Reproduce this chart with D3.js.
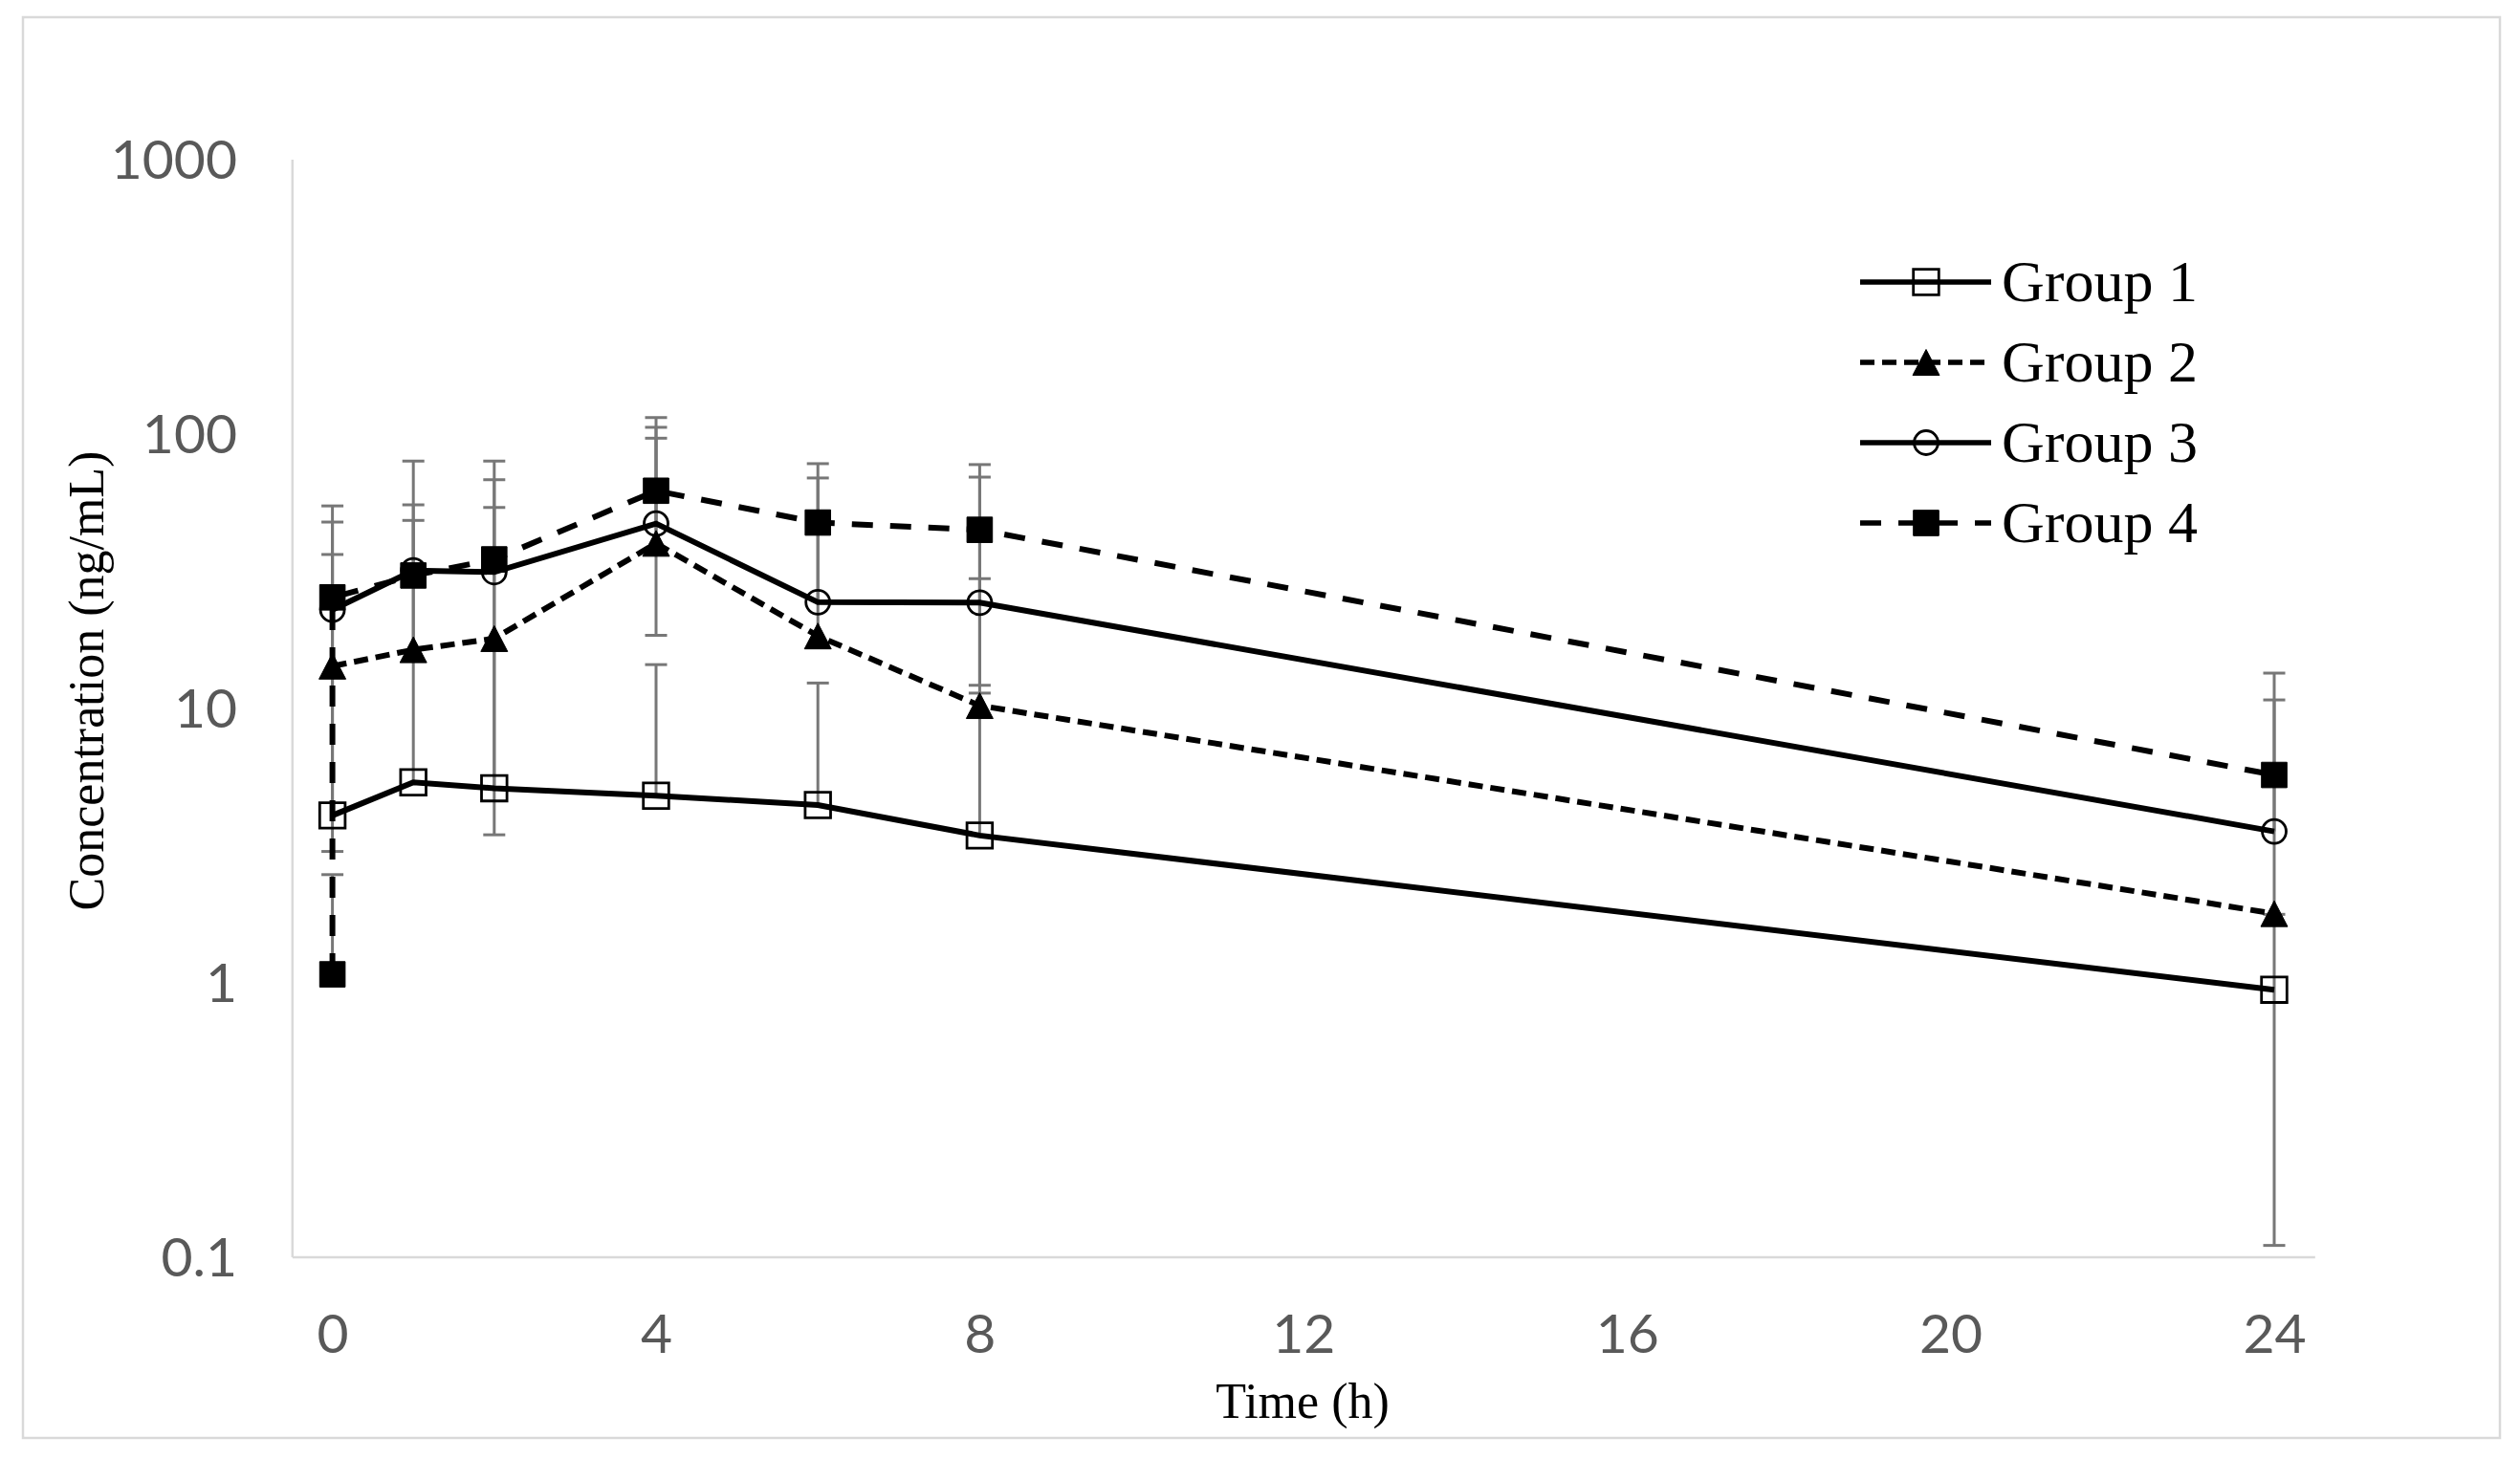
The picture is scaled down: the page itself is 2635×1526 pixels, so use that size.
<!DOCTYPE html>
<html>
<head>
<meta charset="utf-8">
<script src="https://cdn.jsdelivr.net/npm/d3@7"></script>
<style>
  html, body { margin: 0; padding: 0; background: #fff; }
  svg { display: block; }
</style>
</head>
<body>
<div id="chart"></div>
<script>
// sampling times (h)
const TIMES = [0, 1, 2, 4, 6, 8, 24];
// group 4 has an extra pre-dose point at t = 0
const TIMES_G4 = [0, 0, 1, 2, 4, 6, 8, 24];

// mean concentration (ng/mL) and SD
const G1_MEAN = [4.06, 5.36, 5.10, 4.79, 4.43, 3.43, 0.94];
const G1_SD   = [32.2, 42.9, 48.7, 9.6, 7.9, 7.9, 0.83];
const G2_MEAN = [14.2, 16.3, 17.9, 39.8, 18.3, 10.2, 1.78];
const G2_SD   = [11.2, 38.7, 14.45, 74.6, 50.6, 19.4, 3.9];
const G3_MEAN = [22.8, 31.7, 31.3, 47.0, 24.3, 24.2, 3.55];
const G3_SD   = [24.8, 47.7, 36.6, 49.2, 53.4, 45.2, 7.15];
const G4_MEAN = [1.07, 25.3, 30.4, 34.8, 61.9, 47.4, 44.6, 5.70];
const G4_SD   = [1.40, 29.2, 2.0, 44.6, 43.5, 2.0, 32.5, 7.7];

const SERIES_NAMES = ["Group 1", "Group 2", "Group 3", "Group 4"];
const X_TICKS = [0, 4, 8, 12, 16, 20, 24];
const Y_TICKS = [0.1, 1, 10, 100, 1000];
const Y_TICK_LABELS = ["0.1", "1", "10", "100", "1000"];

const W = 2635, H = 1526;

const series = [
  { name: SERIES_NAMES[0], t: TIMES, mean: G1_MEAN, sd: G1_SD, marker: "square", fill: "none", dash: null },
  { name: SERIES_NAMES[1], t: TIMES, mean: G2_MEAN, sd: G2_SD, marker: "triangle", fill: "#000", dash: "15,8" },
  { name: SERIES_NAMES[2], t: TIMES, mean: G3_MEAN, sd: G3_SD, marker: "circle", fill: "none", dash: null },
  { name: SERIES_NAMES[3], t: TIMES_G4, mean: G4_MEAN, sd: G4_SD, marker: "square", fill: "#000", dash: "22,18" }
];

const svg = d3.select("#chart").append("svg")
  .attr("width", W)
  .attr("height", H);

// outer chart border
svg.append("rect")
  .attr("x", 24).attr("y", 18)
  .attr("width", 2590).attr("height", 1486)
  .attr("fill", "#fff")
  .attr("stroke", "#d9d9d9")
  .attr("stroke-width", 2.5);

const x = d3.scaleLinear().domain([-0.5, 24.5]).range([305.3, 2420.3]);
const y = d3.scaleLog().domain([0.1, 1000]).range([1314.5, 166.5]);

// axes (Excel style: light grey lines, no ticks)
const xAxis = svg.append("g")
  .attr("transform", `translate(0,${y(0.1)})`)
  .call(d3.axisBottom(x).tickValues(X_TICKS).tickSize(0).tickPadding(0).tickFormat(d3.format("d")));
xAxis.select(".domain").attr("stroke", "#d9d9d9").attr("stroke-width", 2.5);
xAxis.selectAll("text")
  .attr("y", 0).attr("dy", 0)
  .attr("transform", `translate(0,${1415 - y(0.1)})`)
  .attr("font-family", "Lato, 'Noto Sans', sans-serif")
  .attr("font-size", 57)
  .attr("fill", "#595959");

const yAxis = svg.append("g")
  .attr("transform", `translate(${x(-0.5)},0)`)
  .call(d3.axisLeft(y).tickValues(Y_TICKS).tickSize(0).tickPadding(0)
    .tickFormat((d, i) => Y_TICK_LABELS[i]));
yAxis.select(".domain").attr("stroke", "#d9d9d9").attr("stroke-width", 2.5);
yAxis.selectAll("text")
  .attr("x", 248 - x(-0.5))
  .attr("dy", "0.35em")
  .attr("font-family", "Lato, 'Noto Sans', sans-serif")
  .attr("font-size", 57)
  .attr("fill", "#595959");

// axis titles
svg.append("text")
  .attr("x", 1362).attr("y", 1483)
  .attr("text-anchor", "middle")
  .attr("font-family", "'Liberation Serif', 'Times New Roman', serif")
  .attr("font-size", 52)
  .attr("fill", "#000")
  .text("Time (h)");

svg.append("text")
  .attr("transform", "translate(108,712) rotate(-90)")
  .attr("text-anchor", "middle")
  .attr("font-family", "'Liberation Serif', 'Times New Roman', serif")
  .attr("font-size", 52)
  .attr("fill", "#000")
  .text("Concentration (ng/mL)");

function markerPath(type) {
  if (type === "square") return "M-13.3,-13.3H13.3V13.3H-13.3Z";
  if (type === "triangle") return "M0,-13.5L14,13.5L-14,13.5Z";
  const r = 12.5;
  return `M${-r},0A${r},${r} 0 1,0 ${r},0A${r},${r} 0 1,0 ${-r},0Z`;
}

function drawMarker(g, s, cx, cy) {
  const filled = s.fill !== "none";
  g.append("path")
    .attr("d", markerPath(s.marker))
    .attr("transform", `translate(${cx},${cy})`)
    .attr("fill", filled ? "#000" : "none")
    .attr("stroke", "#000")
    .attr("stroke-width", filled ? 1 : 2.8);
}

// error bars (mean ± SD; negative lower ends cannot be shown on the log axis)
const errG = svg.append("g").attr("stroke", "#777").attr("stroke-width", 3).attr("fill", "none");
const capHalf = 11.5;
series.forEach(s => {
  s.t.forEach((t, i) => {
    const m = s.mean[i], sd = s.sd[i];
    if (!sd) return;
    const hi = m + sd, lo = m - sd;
    const px = x(t);
    const yTop = y(hi);
    const yBot = lo > 0 ? y(lo) : y(m);
    errG.append("line").attr("x1", px).attr("x2", px).attr("y1", yTop).attr("y2", yBot);
    errG.append("line").attr("x1", px - capHalf).attr("x2", px + capHalf).attr("y1", yTop).attr("y2", yTop);
    if (lo > 0) {
      errG.append("line").attr("x1", px - capHalf).attr("x2", px + capHalf).attr("y1", yBot).attr("y2", yBot);
    }
  });
});

// series lines
const line = d3.line().x(d => x(d[0])).y(d => y(d[1]));
const lineG = svg.append("g");
series.forEach(s => {
  lineG.append("path")
    .datum(s.t.map((t, i) => [t, s.mean[i]]))
    .attr("d", line)
    .attr("fill", "none")
    .attr("stroke", "#000")
    .attr("stroke-width", 6)
    .attr("stroke-dasharray", s.dash);
});

// markers
const markG = svg.append("g");
series.forEach(s => {
  s.t.forEach((t, i) => drawMarker(markG, s, x(t), y(s.mean[i])));
});

// legend
const legend = svg.append("g");
series.forEach((s, i) => {
  const ly = 295 + i * 84;
  legend.append("line")
    .attr("x1", 1945).attr("x2", 2082)
    .attr("y1", ly).attr("y2", ly)
    .attr("stroke", "#000")
    .attr("stroke-width", 5.5)
    .attr("stroke-dasharray", s.dash);
  drawMarker(legend, s, 2014, ly);
  legend.append("text")
    .attr("x", 2093).attr("y", ly + 20)
    .attr("font-family", "'Liberation Serif', 'Times New Roman', serif")
    .attr("font-size", 62)
    .attr("fill", "#000")
    .text(s.name);
});
</script>
</body>
</html>
